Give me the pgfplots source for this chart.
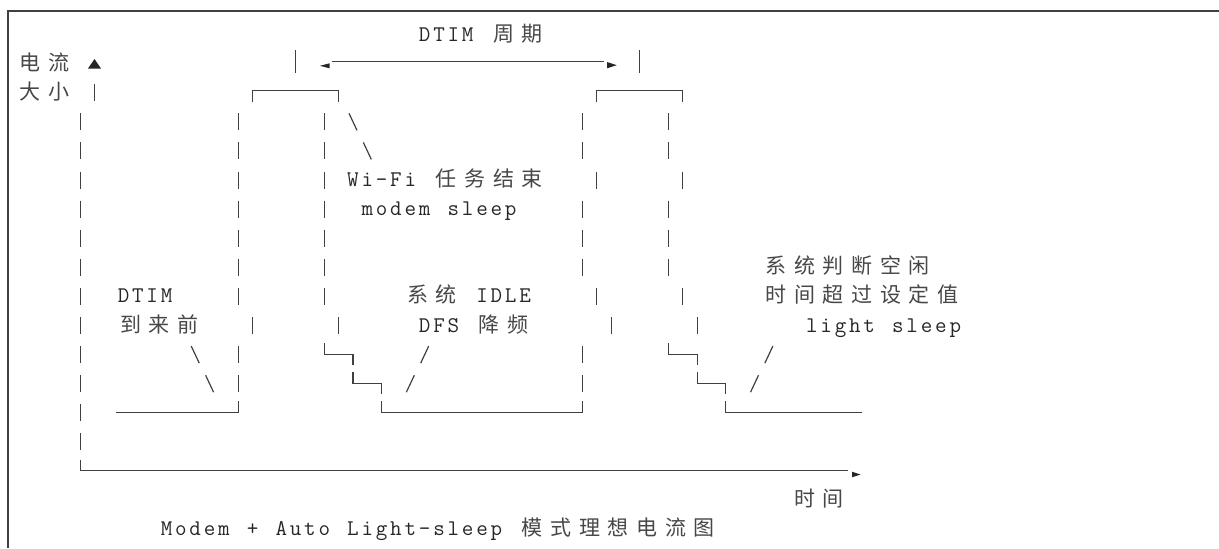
\documentclass[border=0pt]{standalone}
\usepackage{fontspec}
\usepackage{pgfplots}
\pgfplotsset{compat=1.18}
\newfontfamily\cjkfont{Noto Sans CJK SC}
\newlength\cw
\setlength\cw{7.17pt}
\def\monoA#1{\ifx\relax#1\else\makebox[\cw][c]{\ifx.#1\else#1\fi}\expandafter\monoA\fi}
\def\cjA#1{\ifx\relax#1\else\makebox[2\cw][c]{#1}\expandafter\cjA\fi}
\newcommand\mono[1]{{\fontsize{11.2pt}{12pt}\ttfamily\selectfont\monoA#1\relax}}
\newcommand\cj[1]{{\fontsize{10.5pt}{12pt}\cjkfont\selectfont\color{black!72}\cjA#1\relax}}
\pgfplotsset{ln/.style={black!75, line width=0.6pt}}
\tikzset{tx/.style={anchor=base west, inner sep=0pt, outer sep=0pt, text=black!85}}
\begin{document}
\begin{tikzpicture}
\begin{axis}[scale only axis, width=609.5pt, height=274pt,
  xmin=0, xmax=1219, ymin=0, ymax=548, y dir=reverse,
  hide axis, clip=false, unbounded coords=jump]
% frame
\addplot[black!75, line width=1pt] coordinates {(7.5,548) (7.5,10.5) (1219,10.5)};
% column 4 (current axis)
\addplot[ln] coordinates {
(80.53,113.3)(80.53,130.3)(80.53,nan)
(80.53,142.4)(80.53,159.4)(80.53,nan)
(80.53,171.5)(80.53,188.5)(80.53,nan)
(80.53,200.6)(80.53,217.6)(80.53,nan)
(80.53,229.7)(80.53,246.7)(80.53,nan)
(80.53,258.8)(80.53,275.8)(80.53,nan)
(80.53,287.9)(80.53,304.9)(80.53,nan)
(80.53,317.0)(80.53,334.0)(80.53,nan)
(80.53,346.1)(80.53,363.1)(80.53,nan)
(80.53,375.2)(80.53,392.2)(80.53,nan)
(80.53,404.3)(80.53,421.3)(80.53,nan)
(80.53,433.4)(80.53,450.4)};
% column 5 (R2) and top markers
\addplot[ln] coordinates {(94.87,84.2)(94.87,101.2)(94.87,nan)
(295.63,50)(295.63,73)(295.63,nan)
(639.79,50)(639.79,73)};
% column 15/16 (pulse 1 rising edge)
\addplot[ln] coordinates {
(238.27,113.3)(238.27,130.3)(238.27,nan)
(238.27,142.4)(238.27,159.4)(238.27,nan)
(238.27,171.5)(238.27,188.5)(238.27,nan)
(238.27,200.6)(238.27,217.6)(238.27,nan)
(238.27,229.7)(238.27,246.7)(238.27,nan)
(238.27,258.8)(238.27,275.8)(238.27,nan)
(238.27,287.9)(238.27,304.9)(238.27,nan)
(252.61,317.0)(252.61,334.0)(252.61,nan)
(238.27,346.1)(238.27,363.1)(238.27,nan)
(238.27,375.2)(238.27,392.2)};
% column 21/22 (pulse 1 falling edge)
\addplot[ln] coordinates {
(324.31,113.3)(324.31,130.3)(324.31,nan)
(324.31,142.4)(324.31,159.4)(324.31,nan)
(324.31,171.5)(324.31,188.5)(324.31,nan)
(324.31,200.6)(324.31,217.6)(324.31,nan)
(324.31,229.7)(324.31,246.7)(324.31,nan)
(324.31,258.8)(324.31,275.8)(324.31,nan)
(324.31,287.9)(324.31,304.9)(324.31,nan)
(338.65,317.0)(338.65,334.0)};
% column 39/40/41 (pulse 2 rising edge)
\addplot[ln] coordinates {
(582.43,113.3)(582.43,130.3)(582.43,nan)
(582.43,142.4)(582.43,159.4)(582.43,nan)
(596.77,171.5)(596.77,188.5)(596.77,nan)
(582.43,200.6)(582.43,217.6)(582.43,nan)
(582.43,229.7)(582.43,246.7)(582.43,nan)
(582.43,258.8)(582.43,275.8)(582.43,nan)
(596.77,287.9)(596.77,304.9)(596.77,nan)
(611.11,317.0)(611.11,334.0)(611.11,nan)
(582.43,346.1)(582.43,363.1)(582.43,nan)
(582.43,375.2)(582.43,392.2)};
% column 45/46/47 (pulse 2 falling edge)
\addplot[ln] coordinates {
(668.47,113.3)(668.47,130.3)(668.47,nan)
(668.47,142.4)(668.47,159.4)(668.47,nan)
(682.81,171.5)(682.81,188.5)(682.81,nan)
(668.47,200.6)(668.47,217.6)(668.47,nan)
(668.47,229.7)(668.47,246.7)(668.47,nan)
(668.47,258.8)(668.47,275.8)(668.47,nan)
(682.81,287.9)(682.81,304.9)(682.81,nan)
(697.15,317.0)(697.15,334.0)};
% pulse tops
\addplot[ln] coordinates {(252.61,102)(252.61,90.5)(338.65,90.5)(338.65,102)};
\addplot[ln] coordinates {(596.77,102)(596.77,90.5)(682.81,90.5)(682.81,102)};
% stairs after pulse 1
\addplot[ln] coordinates {(324.31,343)(324.31,354.1)(352.99,354.1)(352.99,365)};
\addplot[ln] coordinates {(352.99,372)(352.99,383.2)(381.67,383.2)(381.67,394)};
\addplot[ln] coordinates {(381.67,401)(381.67,412.3)(582.43,412.3)(582.43,401)};
% stairs after pulse 2
\addplot[ln] coordinates {(668.47,343)(668.47,354.1)(697.15,354.1)(697.15,365)};
\addplot[ln] coordinates {(697.15,372)(697.15,383.2)(725.83,383.2)(725.83,394)};
\addplot[ln] coordinates {(725.83,401)(725.83,412.3)(862.06,412.3)};
% baseline before pulse 1
\addplot[ln] coordinates {(116.38,412.3)(238.27,412.3)(238.27,401)};
% time axis
\addplot[ln] coordinates {(80.53,459.5)(80.53,470.7)(847.72,470.7)};
% DTIM period arrow line
\addplot[ln] coordinates {(331.5,61.3)(603.9,61.3)};
% slashes
\addplot[ln] coordinates {
(348.99,113.3)(356.99,130.3)(0,nan)
(363.33,142.4)(371.33,159.4)(0,nan)
(191.25,346.1)(199.25,363.1)(0,nan)
(205.59,375.2)(213.59,392.2)(0,nan)
(428.69,346.1)(420.69,363.1)(0,nan)
(414.35,375.2)(406.35,392.2)(0,nan)
(772.85,346.1)(764.85,363.1)(0,nan)
(758.51,375.2)(750.51,392.2)};
% arrow heads and triangle
\addplot[fill=black!85, draw=none] coordinates {(88,68.5)(101,68.5)(94.5,59)};
\addplot[fill=black!85, draw=none] coordinates {(320,65.8)(329.5,63.3)(329.5,68.3)};
\addplot[fill=black!85, draw=none] coordinates {(616.7,65.2)(607,62)(607,68.3)};
\addplot[fill=black!85, draw=none] coordinates {(860.5,474.5)(852,471.7)(852,477.3)};
% texts
\node[tx] at (axis cs:417.52,41.0) {\mono{DTIM.}\cj{周期}};
\node[tx] at (axis cs:16,70.1) {\cj{电流}};
\node[tx] at (axis cs:16,99.2) {\cj{大小}};
\node[tx] at (axis cs:345.82,186.5) {\mono{Wi-Fi.}\cj{任务结束}};
\node[tx] at (axis cs:360.16,215.6) {\mono{modem.sleep}};
\node[tx] at (axis cs:761.68,273.8) {\cj{系统判断空闲}};
\node[tx] at (axis cs:116.38,302.9) {\mono{DTIM}};
\node[tx] at (axis cs:403.18,302.9) {\cj{系统}\mono{.IDLE}};
\node[tx] at (axis cs:761.68,302.9) {\cj{时间超过设定值}};
\node[tx] at (axis cs:116.38,332.0) {\cj{到来前}};
\node[tx] at (axis cs:417.52,332.0) {\mono{DFS.}\cj{降频}};
\node[tx] at (axis cs:804.7,332.0) {\mono{light.sleep}};
\node[tx] at (axis cs:790.36,506.6) {\cj{时间}};
\node[tx] at (axis cs:159.4,535.7) {\mono{Modem.+.Auto.Light-sleep.}\cj{模式理想电流图}};
\end{axis}
\pgfresetboundingbox
\path (current axis.south west) rectangle (current axis.north east);
\end{tikzpicture}
\end{document}
